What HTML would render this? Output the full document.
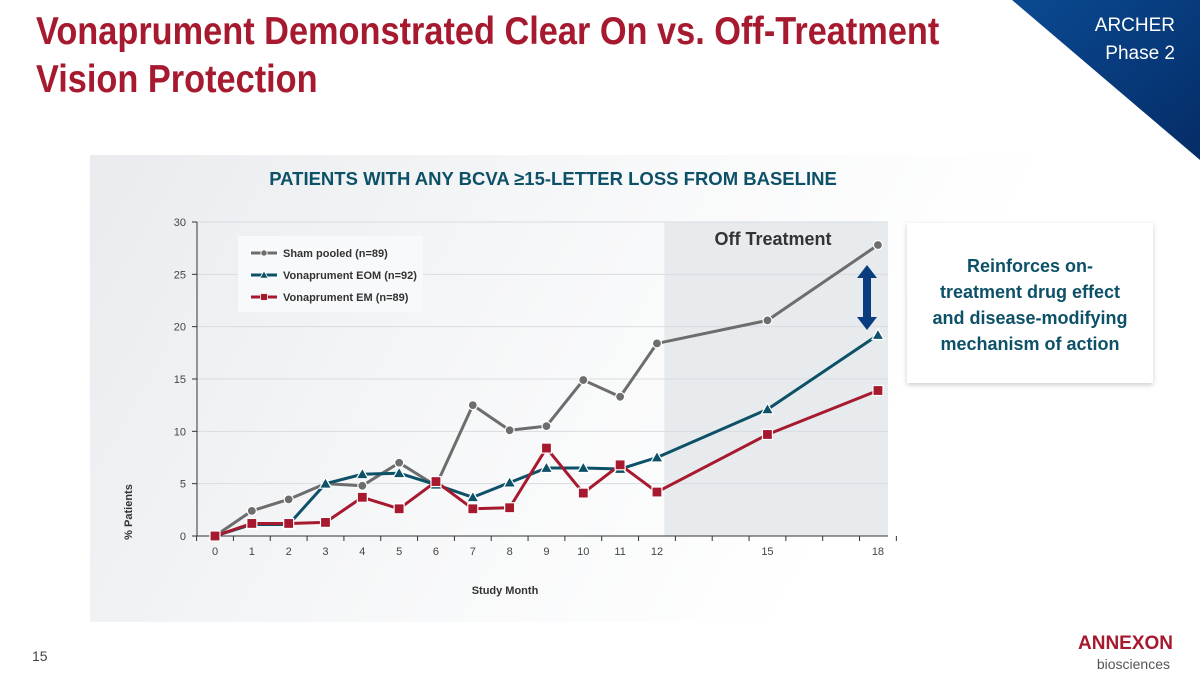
<!DOCTYPE html>
<html><head><meta charset="utf-8"><style>
body{margin:0;width:1200px;height:675px;overflow:hidden;background:#fff;font-family:"Liberation Sans",sans-serif;position:relative}
.t{position:absolute}
</style></head><body>
<div class="t" style="left:90px;top:155px;width:1110px;height:467px;background:linear-gradient(120deg,#e9ebee 0%,#f7f8f9 40%,#ffffff 70%)"></div>
<svg class="t" style="left:0;top:0" width="1200" height="675">
<defs><linearGradient id="g" x1="0" x2="1" y1="0" y2="1"><stop offset="0" stop-color="#0a4a92"/><stop offset="1" stop-color="#052c66"/></linearGradient></defs>
<polygon points="1012,0 1200,0 1200,160" fill="url(#g)"/>
<text x="1175" y="31" fill="#fff" font-size="19" text-anchor="end" font-family="Liberation Sans">ARCHER</text>
<text x="1175" y="59" fill="#fff" font-size="19" text-anchor="end" font-family="Liberation Sans">Phase 2</text>
</svg>
<div class="t" style="left:36px;top:8px;color:#a6192e;font-size:39px;font-weight:bold;line-height:48px;transform:scaleX(0.88);transform-origin:0 0;white-space:nowrap">Vonaprument Demonstrated Clear On vs. Off-Treatment<br>Vision Protection</div>
<div class="t" style="left:200px;top:168px;width:706px;text-align:center;color:#0d5168;font-size:18.5px;font-weight:bold">PATIENTS WITH ANY BCVA ≥15-LETTER LOSS FROM BASELINE</div>
<div class="t" style="left:907px;top:223px;width:246px;height:160px;background:#fff;box-shadow:0 2px 5px rgba(0,0,0,.2);text-align:center;color:#0d5168;font-size:18px;font-weight:bold;line-height:26px;box-sizing:border-box;padding-top:30px">Reinforces on-<br>treatment drug effect<br>and disease-modifying<br>mechanism of action</div>
<div class="t" style="left:32px;top:648px;font-size:14px;color:#444">15</div>
<div class="t" style="left:1078px;top:634px;width:92px;text-align:right;color:#a6192e;font-size:19px;font-weight:bold;line-height:20px">ANNEXON<div style="color:#555;font-size:14px;font-weight:normal">biosciences</div></div>
<svg id="c" class="t" style="left:0;top:0" width="1200" height="675"></svg>
<script>
const months=[0,1,2,3,4,5,6,7,8,9,10,11,12,15,18];
const sham=[0,2.4,3.5,5.0,4.8,7.0,4.8,12.5,10.1,10.5,14.9,13.3,18.4,20.6,27.8];
const eom=[0,1.1,1.1,5.0,5.9,6.0,4.9,3.7,5.1,6.5,6.5,6.4,7.5,12.1,19.2];
const em=[0,1.2,1.2,1.3,3.7,2.6,5.2,2.6,2.7,8.4,4.1,6.8,4.2,9.7,13.9];
const yTicks=[0,5,10,15,20,25,30];
const xLabels=[0,1,2,3,4,5,6,7,8,9,10,11,12,15,18];
const NS='http://www.w3.org/2000/svg';
const svg=document.getElementById('c');
const X=m=>215+m*36.83, Y=v=>536-v*10.467;
function mk(t,a,p){const e=document.createElementNS(NS,t);for(const k in a)e.setAttribute(k,a[k]);(p||svg).appendChild(e);return e;}
let e=mk('rect',{x:X(12.2),y:Y(30),width:888-X(12.2),height:Y(0)-Y(30),fill:'#e8ebee'});


e=mk('text',{x:773,y:245,'font-size':18,'font-weight':'bold',fill:'#333','text-anchor':'middle','font-family':'Liberation Sans'});e.textContent='Off Treatment';


yTicks.forEach(v=>{
 if(v>0){e=mk('line',{x1:197,x2:888,y1:Y(v),y2:Y(v),stroke:'#d8dce2','stroke-width':1});
 
 }
 e=mk('text',{x:186,y:Y(v)+4,'font-size':11,fill:'#444','text-anchor':'end','font-family':'Liberation Sans'});e.textContent=v;
 
 
 mk('line',{x1:192,x2:197,y1:Y(v),y2:Y(v),stroke:'#333'});
});
mk('line',{x1:197,x2:197,y1:Y(30),y2:Y(0),stroke:'#333'});
mk('line',{x1:197,x2:888,y1:Y(0),y2:Y(0),stroke:'#333'});
for(let m=-0.5;m<=18.5;m++){mk('line',{x1:X(m),x2:X(m),y1:Y(0),y2:Y(0)+5,stroke:'#333'});}
xLabels.forEach(m=>{e=mk('text',{x:X(m),y:555,'font-size':11,fill:'#444','text-anchor':'middle','font-family':'Liberation Sans'});e.textContent=m;

});
e=mk('text',{x:505,y:594,'font-size':11,'font-weight':'bold',fill:'#333','text-anchor':'middle','font-family':'Liberation Sans'});e.textContent='Study Month';


e=mk('text',{x:0,y:0,'font-size':11,'font-weight':'bold',fill:'#333','text-anchor':'middle','font-family':'Liberation Sans',transform:'translate(132,512) rotate(-90)'});e.textContent='% Patients';


function marker(shape,x,y,col,g){
 if(shape==='c')return mk('circle',{cx:x,cy:y,r:4.5,fill:col,stroke:'#fff','stroke-width':1.2},g);
 if(shape==='s')return mk('rect',{x:x-5,y:y-5,width:10,height:10,fill:col,stroke:'#fff','stroke-width':1.2},g);
 return mk('polygon',{points:`${x},${y-6} ${x+6},${y+4.5} ${x-6},${y+4.5}`,fill:col,stroke:'#fff','stroke-width':1.2},g);
}
const series=[[sham,'#6d6d6d','c','sham-series'],[eom,'#0d5168','t','eom-series'],[em,'#a6192e','s','em-series']];
series.forEach(([d,col,sh,nm])=>{
 const g=mk('g',{});
 
 
 mk('polyline',{points:d.map((v,i)=>X(months[i])+','+Y(v)).join(' '),fill:'none',stroke:col,'stroke-width':3,'stroke-linejoin':'round'},g);
 d.forEach((v,i)=>{const p=marker(sh,X(months[i]),Y(v),col,g);
 
 });
});
const lg=mk('g',{});


mk('rect',{x:238,y:236,width:185,height:76,fill:'#f8f9fa'},lg);
[['Sham pooled (n=89)','#6d6d6d','c'],['Vonaprument EOM (n=92)','#0d5168','t'],['Vonaprument EM (n=89)','#a6192e','s']].forEach(([l,col,sh],i)=>{
 const y=253+i*22;
 mk('line',{x1:251,x2:277,y1:y,y2:y,stroke:col,'stroke-width':3},lg);
 marker(sh,264,y,col,lg).setAttribute('transform',`translate(${264*0.3},${y*0.3}) scale(0.7)`);
 const t=mk('text',{x:283,y:y+4,'font-size':11,'font-weight':'bold',fill:'#333','font-family':'Liberation Sans'},lg);t.textContent=l;
 
 
});
e=mk('g',{});


mk('rect',{x:863,y:276,width:8,height:42,fill:'#0a3d80'},e);
mk('polygon',{points:'867,265 877,278 857,278',fill:'#0a3d80'},e);
mk('polygon',{points:'867,330 877,317 857,317',fill:'#0a3d80'},e);
</script>
</body></html>
